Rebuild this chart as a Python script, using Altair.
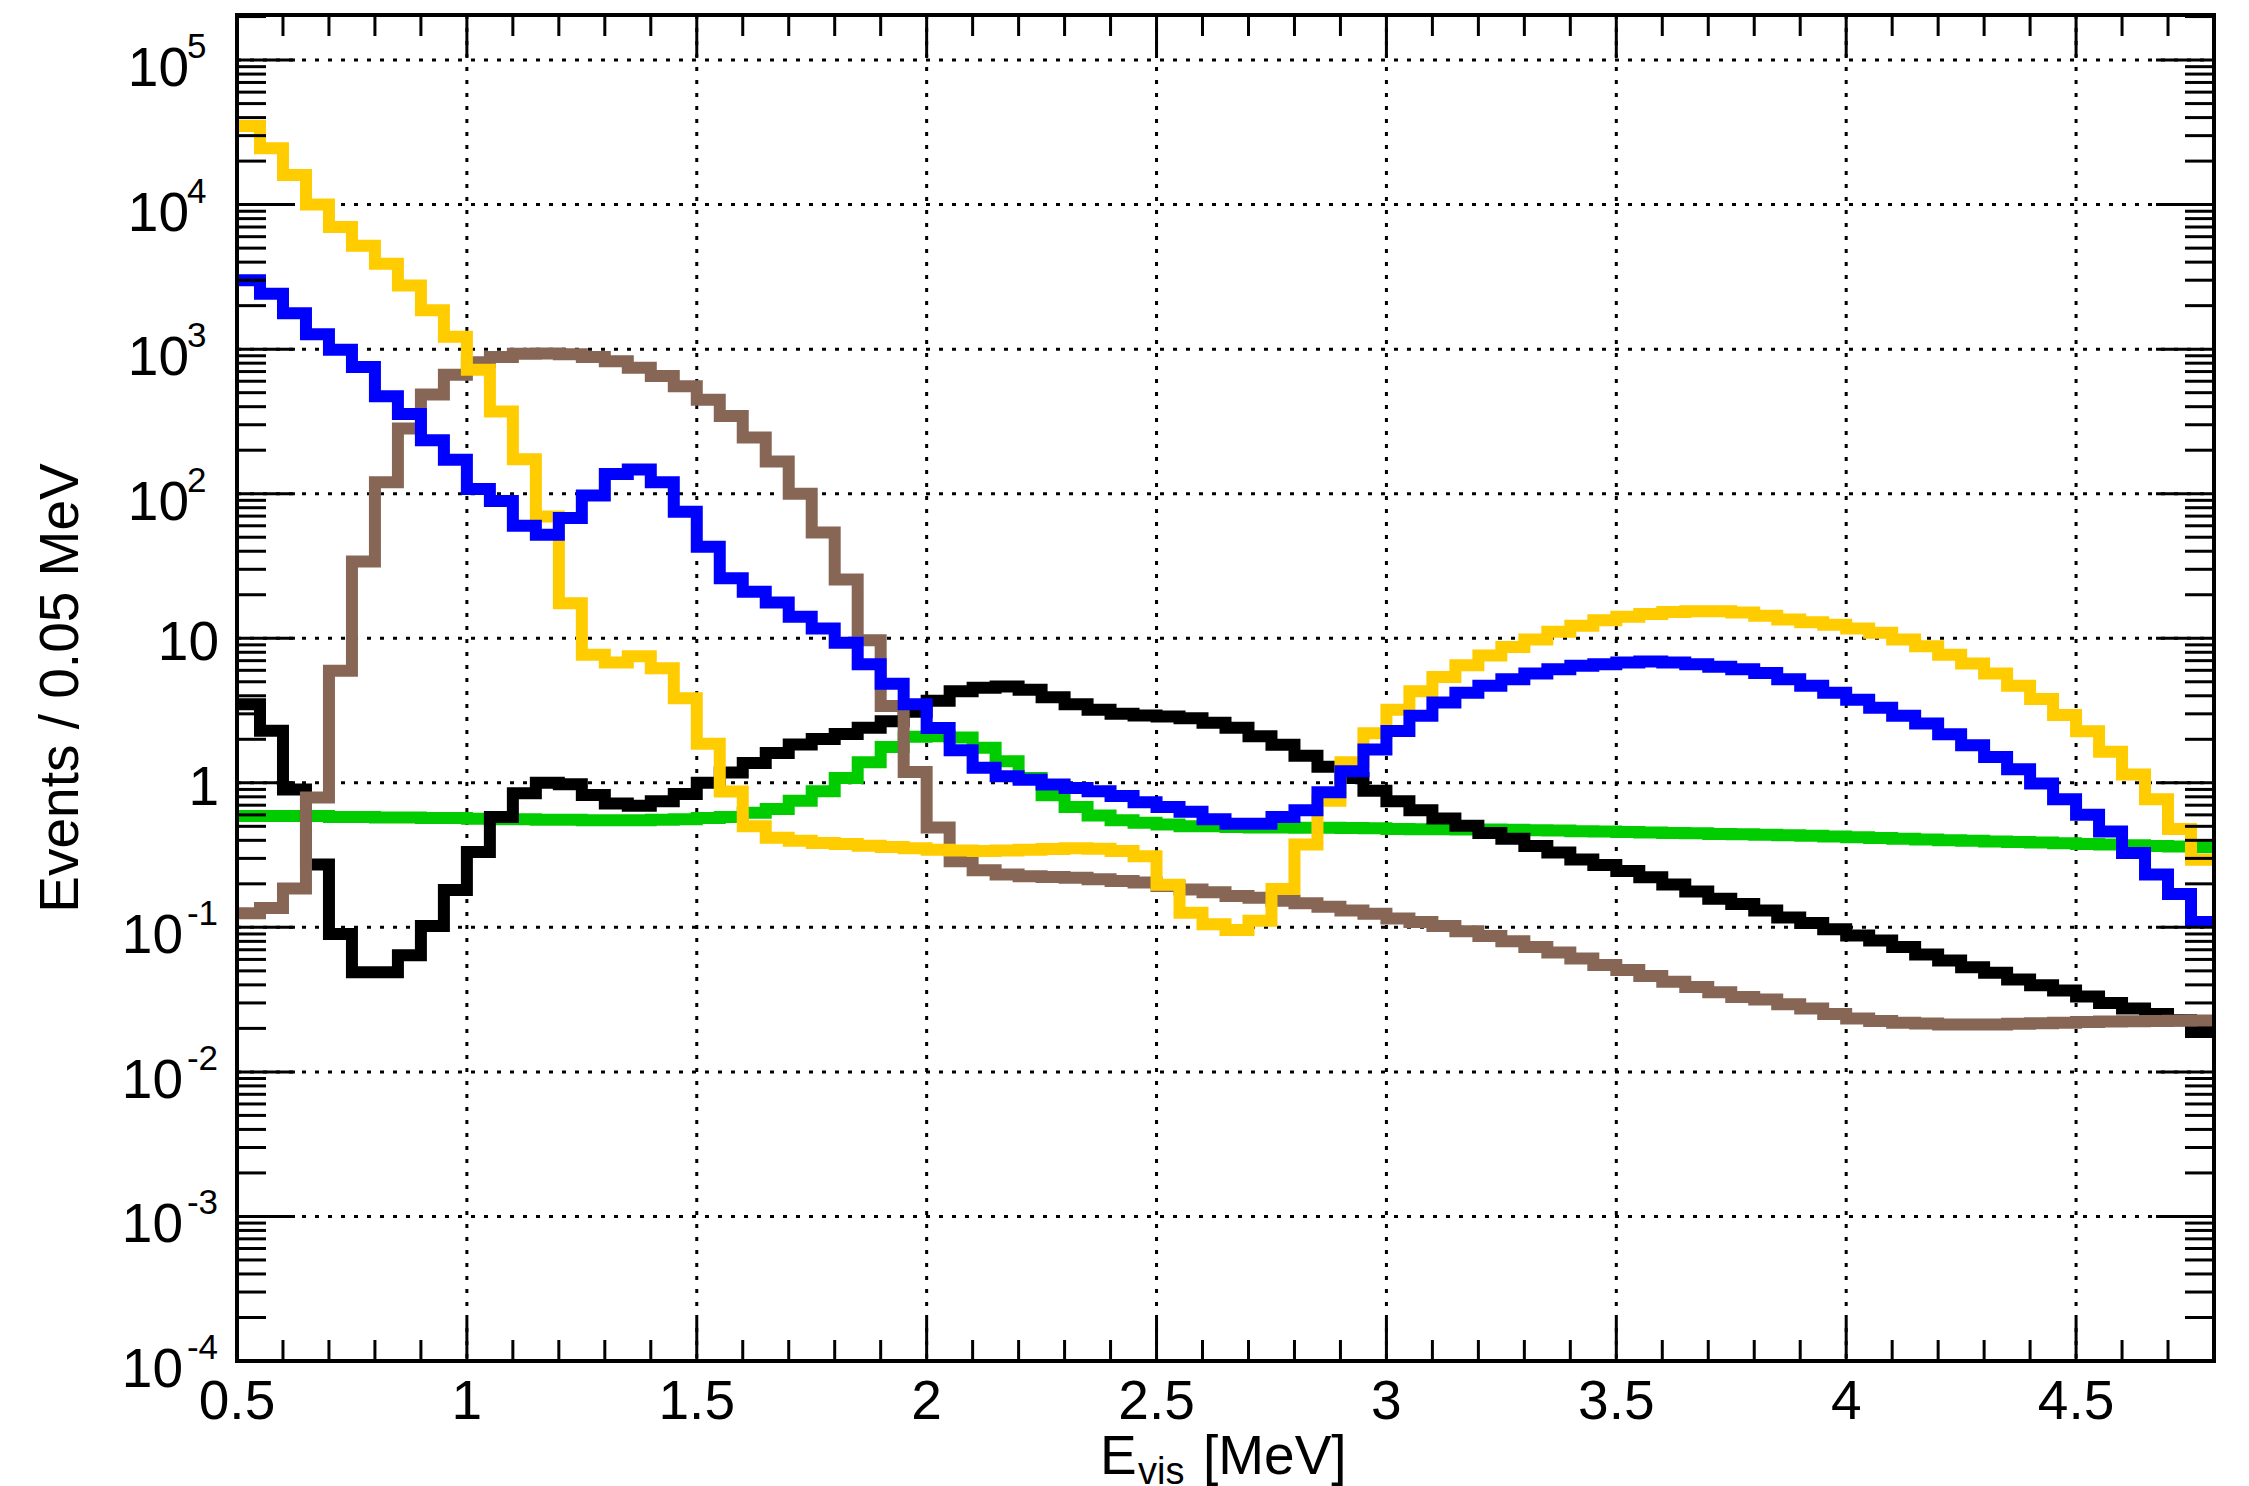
import altair as alt
import pandas as pd

# ---------------- data (events / 0.05 MeV, bins from 0.5 to 4.8 MeV) ----------------
X_MIN, X_MAX, BIN = 0.5, 4.8, 0.05
Y_MIN, Y_MAX = 1e-4, 2.05e5

yellow = [35000, 24500, 16000, 10000, 7000, 5200, 3900, 2760, 1860, 1220,
          720, 370, 173, 69.5, 17.5, 7.7, 6.8, 7.5, 6.2, 3.85,
          1.86, 0.87, 0.50, 0.417, 0.397, 0.383, 0.377, 0.367, 0.359, 0.352,
          0.344, 0.340, 0.338, 0.340, 0.344, 0.348, 0.352, 0.350, 0.338, 0.310,
          0.197, 0.126, 0.105, 0.096, 0.111, 0.184, 0.374, 0.75, 1.39, 2.2,
          3.2, 4.3, 5.4, 6.5, 7.6, 8.7, 9.8, 11.1, 12.2, 13.3,
          14.1, 14.7, 15.2, 15.4, 15.4, 15.1, 14.3, 13.5, 12.9, 12.4,
          11.7, 10.9, 9.8, 8.8, 7.7, 6.7, 5.7, 4.7, 3.8, 2.94,
          2.27, 1.64, 1.14, 0.77, 0.48, 0.294]

blue = [3000, 2420, 1770, 1270, 990, 753, 472, 356, 234, 172,
        108, 89, 60, 52, 68, 97, 137, 147, 120, 75,
        43, 26, 21, 17.7, 14.1, 11.7, 9.3, 6.6, 4.85, 3.5,
        2.39, 1.68, 1.27, 1.11, 1.05, 0.975, 0.92, 0.875, 0.81, 0.735,
        0.68, 0.63, 0.56, 0.52, 0.52, 0.58, 0.645, 0.86, 1.2, 1.7,
        2.28, 2.91, 3.6, 4.2, 4.7, 5.2, 5.7, 6.1, 6.45, 6.6,
        6.8, 6.9, 6.8, 6.6, 6.35, 6.1, 5.75, 5.2, 4.7, 4.2,
        3.76, 3.3, 2.91, 2.57, 2.17, 1.82, 1.51, 1.24, 0.99, 0.77,
        0.60, 0.46, 0.327, 0.232, 0.17, 0.109]

brown = [0.125, 0.136, 0.186, 0.79, 5.96, 34, 120, 283, 485, 664,
         811, 884, 930, 935, 923, 883, 825, 745, 653, 553,
         446, 345, 245, 167, 100, 54, 25.5, 9.7, 3.4, 1.19,
         0.49, 0.287, 0.248, 0.232, 0.226, 0.223, 0.220, 0.215, 0.209, 0.204,
         0.193, 0.183, 0.175, 0.165, 0.160, 0.153, 0.147, 0.139, 0.131, 0.124,
         0.115, 0.109, 0.102, 0.094, 0.087, 0.080, 0.073, 0.067, 0.061, 0.055,
         0.0506, 0.046, 0.042, 0.0387, 0.0356, 0.033, 0.0317, 0.0294, 0.0275, 0.0252,
         0.0234, 0.0225, 0.0219, 0.0216, 0.0213, 0.0213, 0.0213, 0.0215, 0.0217, 0.0219,
         0.0221, 0.0223, 0.0224, 0.0225, 0.0226, 0.0227]

black = [3.5, 2.29, 0.90, 0.272, 0.090, 0.049, 0.049, 0.064, 0.102, 0.181,
         0.332, 0.58, 0.848, 1.0, 0.977, 0.824, 0.72, 0.695, 0.745, 0.838,
         1.0, 1.18, 1.37, 1.61, 1.84, 2.01, 2.18, 2.4, 2.67, 3.1,
         3.7, 4.3, 4.55, 4.63, 4.4, 3.9, 3.5, 3.2, 3.0, 2.92,
         2.87, 2.8, 2.6, 2.4, 2.1, 1.83, 1.54, 1.29, 1.08, 0.88,
         0.745, 0.646, 0.566, 0.505, 0.45, 0.41, 0.365, 0.33, 0.295, 0.27,
         0.245, 0.222, 0.198, 0.177, 0.158, 0.145, 0.131, 0.117, 0.107, 0.097,
         0.088, 0.081, 0.073, 0.065, 0.059, 0.053, 0.0485, 0.0436, 0.0398, 0.0365,
         0.0333, 0.030, 0.0275, 0.0252, 0.0228, 0.0189]

green = [0.59, 0.59, 0.59, 0.59, 0.58, 0.58, 0.575, 0.575, 0.57, 0.57,
         0.565, 0.56, 0.56, 0.555, 0.555, 0.55, 0.55, 0.55, 0.555, 0.56,
         0.57, 0.58, 0.62, 0.66, 0.75, 0.875, 1.08, 1.39, 1.77, 2.08,
         2.1, 2.06, 1.75, 1.41, 1.08, 0.82, 0.68, 0.594, 0.55, 0.53,
         0.515, 0.50, 0.50, 0.495, 0.49, 0.49, 0.488, 0.488, 0.486, 0.485,
         0.48, 0.478, 0.477, 0.476, 0.475, 0.473, 0.47, 0.467, 0.463, 0.46,
         0.457, 0.453, 0.45, 0.447, 0.443, 0.44, 0.437, 0.433, 0.43, 0.425,
         0.42, 0.415, 0.41, 0.405, 0.40, 0.397, 0.393, 0.39, 0.386, 0.382,
         0.378, 0.374, 0.37, 0.366, 0.362, 0.358]

x_major = [0.5, 1.0, 1.5, 2.0, 2.5, 3.0, 3.5, 4.0, 4.5]
x_major_labels = ["0.5", "1", "1.5", "2", "2.5", "3", "3.5", "4", "4.5"]
x_minor = [round(0.5 + 0.1 * i, 2) for i in range(1, 43) if round(0.5 + 0.1 * i, 2) not in x_major]
y_decades = list(range(-4, 6))
y_minor = [k * 10.0 ** n for n in range(-4, 6) for k in range(2, 10) if k * 10.0 ** n < Y_MAX]

# ---------------- geometry / style ----------------
W, H = 1977, 1346
FONT = "Liberation Sans, Arial, Helvetica, sans-serif"
FS = 55

xscale = alt.Scale(domain=[X_MIN, X_MAX], nice=False, zero=False)
yscale = alt.Scale(type="log", domain=[Y_MIN, Y_MAX], nice=False)

edges = [round(X_MIN + BIN * i, 4) for i in range(len(yellow) + 1)]


def step_df(vals):
    return pd.DataFrame({"x": edges, "y": list(vals) + [vals[-1]]})


def series(vals, color):
    return alt.Chart(step_df(vals)).mark_line(
        interpolate="step-after", strokeWidth=12, strokeJoin="miter",
        strokeCap="butt", color=color, clip=True
    ).encode(
        x=alt.X("x:Q", scale=xscale, axis=None),
        y=alt.Y("y:Q", scale=yscale, axis=None),
    )


X = lambda f="v": alt.X(f"{f}:Q", scale=xscale, axis=None)
Y = lambda f="v": alt.Y(f"{f}:Q", scale=yscale, axis=None)

xgrid_df = pd.DataFrame({"v": x_major[1:]})
ygrid_df = pd.DataFrame({"v": [10.0 ** n for n in y_decades[1:]]})

grid_x = alt.Chart(xgrid_df).mark_rule(color="black", strokeWidth=3, strokeDash=[4, 9]).encode(
    x=X(), y=alt.value(0), y2=alt.value(H))
grid_y = alt.Chart(ygrid_df).mark_rule(color="black", strokeWidth=3, strokeDash=[4, 9]).encode(
    y=Y(), x=alt.value(0), x2=alt.value(W))

xmaj_df = pd.DataFrame({"v": x_major})
xmin_df = pd.DataFrame({"v": x_minor})
ymaj_df = pd.DataFrame({"v": [10.0 ** n for n in y_decades]})
ymin_df = pd.DataFrame({"v": y_minor})

TW = 3
ticks = [
    alt.Chart(xmaj_df).mark_rule(color="black", strokeWidth=TW).encode(x=X(), y=alt.value(H), y2=alt.value(H - 42)),
    alt.Chart(xmaj_df).mark_rule(color="black", strokeWidth=TW).encode(x=X(), y=alt.value(0), y2=alt.value(42)),
    alt.Chart(xmin_df).mark_rule(color="black", strokeWidth=TW).encode(x=X(), y=alt.value(H), y2=alt.value(H - 21)),
    alt.Chart(xmin_df).mark_rule(color="black", strokeWidth=TW).encode(x=X(), y=alt.value(0), y2=alt.value(21)),
    alt.Chart(ymaj_df).mark_rule(color="black", strokeWidth=TW).encode(y=Y(), x=alt.value(0), x2=alt.value(58)),
    alt.Chart(ymaj_df).mark_rule(color="black", strokeWidth=TW).encode(y=Y(), x=alt.value(W), x2=alt.value(W - 58)),
    alt.Chart(ymin_df).mark_rule(color="black", strokeWidth=TW).encode(y=Y(), x=alt.value(0), x2=alt.value(29)),
    alt.Chart(ymin_df).mark_rule(color="black", strokeWidth=TW).encode(y=Y(), x=alt.value(W), x2=alt.value(W - 29)),
]

frame = alt.Chart(pd.DataFrame({"a": [0]})).mark_rect(
    fillOpacity=0, stroke="black", strokeWidth=4
).encode(x=alt.value(0), x2=alt.value(W), y=alt.value(0), y2=alt.value(H))

# ---------------- labels ----------------
plain_df = pd.DataFrame({"v": [10.0, 1.0], "t": ["10", "1"]})
pos_df = pd.DataFrame({"v": [10.0 ** n for n in [5, 4, 3, 2]], "e": [str(n) for n in [5, 4, 3, 2]]})
neg_df = pd.DataFrame({"v": [10.0 ** n for n in [-1, -2, -3, -4]],
                       "e": ["-" + str(-n) for n in [-1, -2, -3, -4]]})

txt = dict(font=FONT, color="black")
ylab = [
    alt.Chart(plain_df).mark_text(align="right", baseline="alphabetic", fontSize=FS, dy=22, **txt).encode(
        y=Y(), x=alt.value(-18), text="t:N"),
    alt.Chart(pos_df).mark_text(align="right", baseline="alphabetic", fontSize=FS, dy=26, **txt).encode(
        y=Y(), x=alt.value(-48), text=alt.value("10")),
    alt.Chart(pos_df).mark_text(align="left", baseline="alphabetic", fontSize=35, dy=-2, **txt).encode(
        y=Y(), x=alt.value(-50), text="e:N"),
    alt.Chart(neg_df).mark_text(align="right", baseline="alphabetic", fontSize=FS, dy=26, **txt).encode(
        y=Y(), x=alt.value(-54), text=alt.value("10")),
    alt.Chart(neg_df).mark_text(align="right", baseline="alphabetic", fontSize=35, dy=-2, **txt).encode(
        y=Y(), x=alt.value(-19), text="e:N"),
]

xlab_df = pd.DataFrame({"v": x_major, "t": x_major_labels})
xlab = alt.Chart(xlab_df).mark_text(align="center", baseline="alphabetic", fontSize=FS, **txt).encode(
    x=X(), y=alt.value(H + 58), text="t:N")

one = pd.DataFrame({"a": [0]})
ytitle = alt.Chart(one).mark_text(align="center", baseline="alphabetic", angle=270, fontSize=FS, **txt).encode(
    x=alt.value(-159), y=alt.value(H / 2), text=alt.value("Events / 0.05 MeV"))
xt_E = alt.Chart(one).mark_text(align="left", baseline="alphabetic", fontSize=FS, **txt).encode(
    x=alt.value(863), y=alt.value(1459), text=alt.value("E"))
xt_sub = alt.Chart(one).mark_text(align="left", baseline="alphabetic", fontSize=38, **txt).encode(
    x=alt.value(901), y=alt.value(1469), text=alt.value("vis"))
xt_rest = alt.Chart(one).mark_text(align="left", baseline="alphabetic", fontSize=FS, **txt).encode(
    x=alt.value(966), y=alt.value(1459), text=alt.value("[MeV]"))

layers = [grid_x, grid_y,
          series(green, "#00CC00"),
          series(black, "#000000"),
          series(brown, "#876656"),
          series(yellow, "#FFCC00"),
          series(blue, "#0000FF"),
          *ticks, frame, *ylab, xlab, ytitle, xt_E, xt_sub, xt_rest]

chart = alt.layer(*layers).properties(
    width=W, height=H,
    padding={"left": 237, "top": 15, "right": 35, "bottom": 125},
    autosize=alt.AutoSizeParams(type="none"),
    background="white",
).configure_view(strokeWidth=0)

chart.save("out.html", embed_options={"renderer": "svg", "actions": False})
